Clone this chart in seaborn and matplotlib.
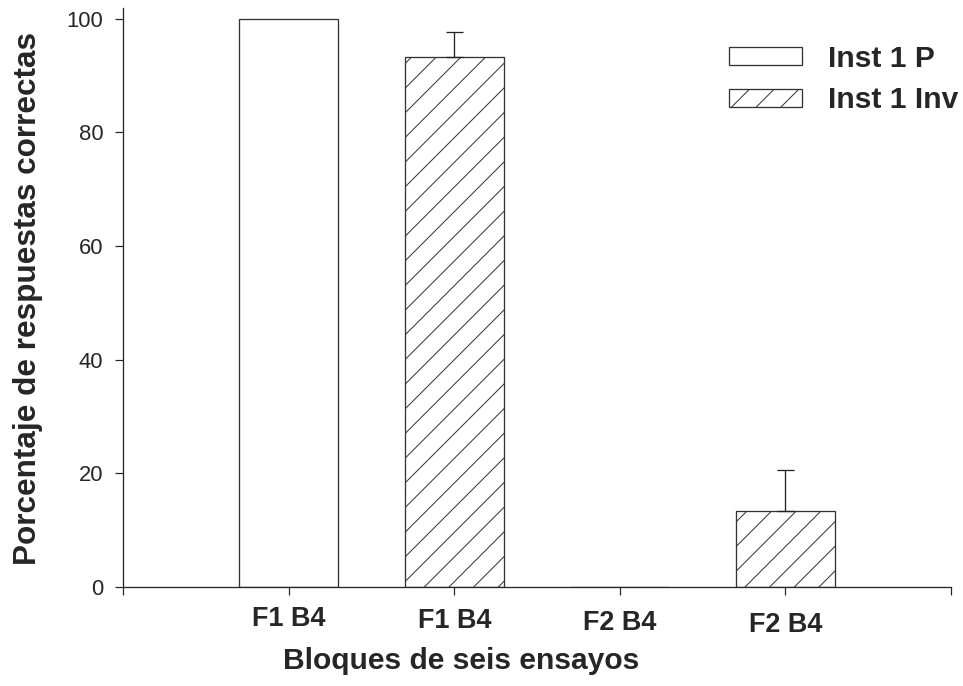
import seaborn as sns
import matplotlib.pyplot as plt
import matplotlib.patches as mpatches
import pandas as pd

# Données
bloques = ['F1 B4 P', 'F1 B4 Inv', 'F2 B4 P', 'F2 B4 Inv']
etiquetas = ['F1 B4', 'F1 B4', 'F2 B4', 'F2 B4']
instruccion = ['Inst 1 P', 'Inst 1 Inv', 'Inst 1 P', 'Inst 1 Inv']
porcentaje = [100.0, 93.3, 0.0, 13.3]
error_sup = [0.0, 4.4, 0.0, 7.3]

data = pd.DataFrame({'Bloque': bloques, 'Inst': instruccion, 'Pct': porcentaje})

# dpi 148 -> hachures espacées comme l'original
DPI = 148
PT = 72 / DPI  # pixels -> points

sns.set_style('ticks')
plt.rcParams['font.family'] = ['Liberation Sans', 'DejaVu Sans']
plt.rcParams['hatch.linewidth'] = 1.0 * PT
plt.rcParams['hatch.color'] = 'black'

fig = plt.figure(figsize=(963 / DPI, 686 / DPI), dpi=DPI)
ax = fig.add_axes([123.3 / 963, 1 - 587 / 686, 827.4 / 963, 579 / 686])

sns.barplot(x='Bloque', y='Pct', hue='Inst', data=data, order=bloques,
            hue_order=['Inst 1 P', 'Inst 1 Inv'], dodge=False, width=0.6,
            palette=['white', 'white'], edgecolor='#333333',
            linewidth=1.3 * PT, legend=False, ax=ax)

for bar in ax.patches:
    x_c = bar.get_x() + bar.get_width() / 2
    idx = int(round(x_c))
    if instruccion[idx] == 'Inst 1 Inv':
        bar.set_hatch('//')

# barres d'erreur (seulement vers le haut)
pos_err = [i for i in range(len(bloques)) if error_sup[i] > 0]
ax.errorbar(pos_err, [porcentaje[i] for i in pos_err],
            yerr=[[0] * len(pos_err), [error_sup[i] for i in pos_err]],
            fmt='none', ecolor='#222222', elinewidth=1.3 * PT,
            capsize=8.5 * PT, capthick=1.3 * PT)

ax.set_xlim(-1, 4)
ax.set_ylim(0, 101.9)
ax.set_xticks(range(-1, 5))
ax.set_xticklabels([''] + etiquetas + [''], fontweight='bold', fontsize=27 * PT)
ax.set_yticks(range(0, 101, 20))
ax.tick_params(axis='y', labelsize=22 * PT, length=8 * PT, width=1.2 * PT, pad=12 * PT)
ax.tick_params(axis='x', length=8 * PT, width=1.2 * PT)
for tick, pad in zip(ax.xaxis.get_major_ticks(), [0, 11, 13, 15, 17, 0]):
    tick.set_pad(pad * PT)

sns.despine(ax=ax)
for s in ['left', 'bottom']:
    ax.spines[s].set_linewidth(1.3 * PT)

ax.set_xlabel('Bloques de seis ensayos', fontweight='bold', fontsize=30 * PT,
              ha='center', va='baseline')
ax.xaxis.set_label_coords((461 - 123.3) / 827.4, (587 - 669) / 579)
ax.set_ylabel('Porcentaje de respuestas correctas', fontweight='bold',
              fontsize=31.5 * PT, ha='center', va='center')
ax.yaxis.set_label_coords((28 - 123.3) / 827.4, (587 - 298.5) / 579)

# légende
handles = [mpatches.Patch(facecolor='white', edgecolor='#333333', linewidth=1.3 * PT),
           mpatches.Patch(facecolor='white', edgecolor='#333333', linewidth=1.3 * PT, hatch='//')]
fig.legend(handles, ['Inst 1 P', 'Inst 1 Inv'], loc='upper left',
           bbox_to_anchor=(729 / 963, 1 - 45 / 686), frameon=False,
           prop={'weight': 'bold', 'size': 30 * PT}, borderpad=0, borderaxespad=0,
           handlelength=2.43, handleheight=0.55, handletextpad=0.87, labelspacing=0.44)

fig.savefig('out.png', dpi=DPI)
